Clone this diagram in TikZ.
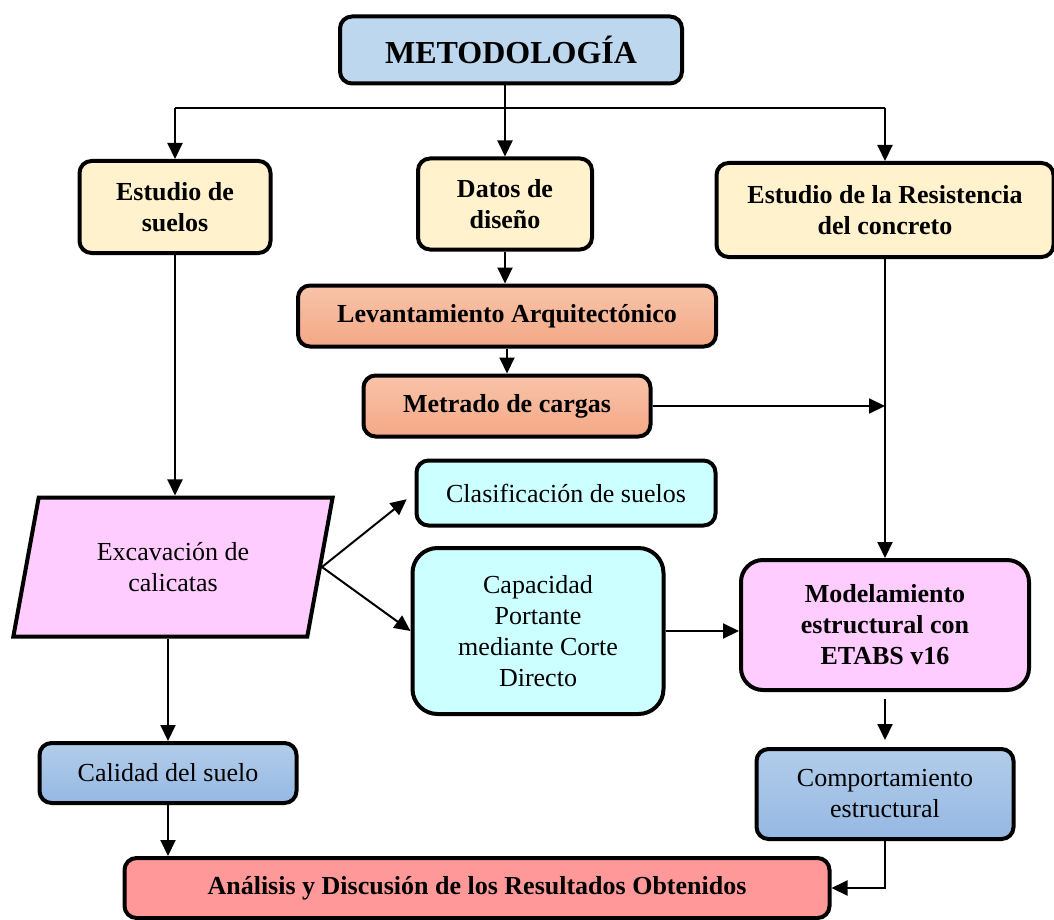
\documentclass[tikz,border=0pt]{standalone}
\usepackage{fontspec}
\setmainfont{Liberation Serif}
\usetikzlibrary{shapes.geometric,arrows.meta}
\definecolor{azul}{HTML}{BDD7EE}
\definecolor{amarillo}{HTML}{FFF2CC}
\definecolor{rosa}{HTML}{FFCCFF}
\definecolor{celeste}{HTML}{CCFFFF}
\definecolor{salmon}{HTML}{FF9999}
\definecolor{naranjaA}{HTML}{F8C4AA}
\definecolor{naranjaB}{HTML}{F4A886}
\definecolor{azulA}{HTML}{B2CDEA}
\definecolor{azulB}{HTML}{95B8E2}
\begin{document}
\begin{tikzpicture}[x=1pt,y=-1pt,
    caja/.style={draw,line width=4pt,rounded corners=12pt,align=center,
      inner sep=0pt,font=\fontsize{26}{31}\selectfont},
    negrita/.style={caja,font=\fontsize{26}{31}\selectfont\bfseries},
    naranja/.style={top color=naranjaA,bottom color=naranjaB},
    azulg/.style={top color=azulA,bottom color=azulB},
    flecha/.style={line width=2pt,-{Triangle[length=16pt,width=15pt]}},
    linea/.style={line width=2pt}]
  \useasboundingbox (0,0) rectangle (1054,920);
  \node[negrita,fill=azul,minimum width=342,minimum height=67,
    font=\fontsize{32}{36}\selectfont\bfseries] (met) at (511,50) {METODOLOGÍA};
  \node[negrita,fill=amarillo,minimum width=191,minimum height=92] (sue) at (175,207) {Estudio de\\suelos};
  \node[negrita,fill=amarillo,minimum width=174,minimum height=91] (dat) at (505,204) {Datos de\\diseño};
  \node[negrita,fill=amarillo,minimum width=337,minimum height=94] (res) at (885,210) {Estudio de la Resistencia\\del concreto};
  \node[negrita,naranja,minimum width=418,minimum height=61] (lev) at (507,316) {Levantamiento Arquitectónico};
  \node[negrita,naranja,minimum width=287,minimum height=61] (mca) at (507,406) {Metrado de cargas};
  \node[draw,line width=4pt,trapezium,trapezium left angle=75,trapezium right angle=105,
    trapezium stretches=true,minimum width=320,minimum height=139,fill=rosa,align=center,
    font=\fontsize{26}{31}\selectfont] (exc) at (173,567) {Excavación de\\calicatas};
  \node[caja,fill=celeste,minimum width=299,minimum height=65] (cla) at (566,493) {Clasificación de suelos};
  \node[caja,fill=celeste,rounded corners=25pt,minimum width=251,minimum height=166] (cap) at (538,631)
    {Capacidad\\Portante\\mediante Corte\\Directo};
  \node[negrita,fill=rosa,rounded corners=22pt,minimum width=288,minimum height=130] (mod) at (885,625)
    {Modelamiento\\estructural con\\ETABS v16};
  \node[caja,azulg,minimum width=257,minimum height=90] (com) at (885,794) {Comportamiento\\estructural};
  \node[caja,azulg,minimum width=257,minimum height=60] (cal) at (168,773) {Calidad del suelo};
  \node[negrita,fill=salmon,minimum width=705,minimum height=60] (ana) at (477,888)
    {Análisis y Discusión de los Resultados Obtenidos};
  \coordinate (top) at (0,108);
  \draw[linea] (sue.north |- top) -- (res.north |- top);
  \draw[flecha] (dat.north |- met.south) -- (dat.north);
  \draw[flecha] (sue.north |- top) -- (sue.north);
  \draw[flecha] (res.north |- top) -- (res.north);
  \draw[flecha] (dat.south) -- (dat.south |- lev.north);
  \draw[flecha] (lev.south) -- (lev.south |- mca.north);
  \draw[flecha] (mca.east) -- (mca.east -| res.south);
  \draw[flecha] (res.south) -- (mod.north);
  \draw[flecha] (sue.south) -- (sue.south |- exc.north);
  \draw[flecha,shorten >=10pt] (exc.east) -- (cla.west);
  \draw[flecha] (exc.east) -- (cap.west);
  \draw[flecha] (cap.east) -- (cap.east -| mod.west);
  \draw[flecha,shorten <=7pt,shorten >=7pt] (mod.south) -- (com.north);
  \draw[flecha] (com.south) |- (ana.east);
  \draw[flecha] (cal.north |- exc.south) -- (cal.north);
  \draw[flecha] (cal.south) -- (cal.south |- ana.north);
\end{tikzpicture}
\end{document}
